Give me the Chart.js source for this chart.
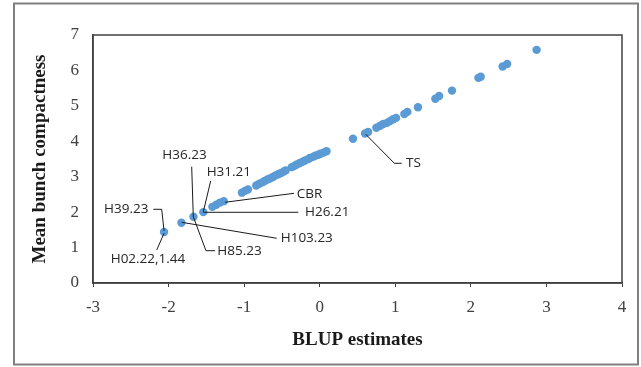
<!DOCTYPE html>
<html>
<head>
<meta charset="utf-8">
<script src="https://cdn.jsdelivr.net/npm/chart.js@4"></script>
<style>
  html, body { margin: 0; padding: 0; background: #fff; }
  #wrap { position: relative; width: 641px; height: 367px; }
</style>
</head>
<body>
<div id="wrap"><canvas id="chartBlup"></canvas></div>
<script>
// BLUP estimates (x) and mean bunch compactness (y)
var blupX = [-2.06, -1.83, -1.67, -1.54, -1.42, -1.37, -1.32, -1.27,
  -1.03, -0.99, -0.95, -0.84, -0.80, -0.76, -0.73, -0.69, -0.66, -0.62, -0.59, -0.55, -0.52, -0.48, -0.45,
  -0.37, -0.34, -0.31, -0.27, -0.23, -0.20, -0.16, -0.13, -0.09, -0.06, -0.02, 0.01, 0.05, 0.09,
  0.44, 0.60, 0.64, 0.75, 0.80, 0.84, 0.89, 0.93, 0.97, 1.01, 1.12, 1.16, 1.30,
  1.53, 1.58, 1.75, 2.10, 2.13, 2.42, 2.48, 2.87];
var meanY = [1.44, 1.70, 1.87, 2.00, 2.15, 2.21, 2.27, 2.31,
  2.55, 2.60, 2.64, 2.75, 2.80, 2.84, 2.88, 2.92, 2.95, 2.99, 3.03, 3.07, 3.10, 3.14, 3.18,
  3.27, 3.30, 3.34, 3.38, 3.42, 3.45, 3.49, 3.53, 3.56, 3.59, 3.62, 3.65, 3.68, 3.72,
  4.07, 4.22, 4.26, 4.38, 4.44, 4.49, 4.52, 4.57, 4.62, 4.66, 4.77, 4.83, 4.96,
  5.20, 5.28, 5.43, 5.79, 5.82, 6.11, 6.18, 6.58];

var xTicks = [-3, -2, -1, 0, 1, 2, 3, 4];
var yTicks = [0, 1, 2, 3, 4, 5, 6, 7];

var xTitle = 'BLUP estimates';
var yTitle = 'Mean bunch compactness';

// point labels: text, where the text starts, and the leader line (all in axis units)
var labelNames = ['H36.23', 'H31.21', 'CBR', 'H26.21', 'H39.23', 'H103.23', 'H85.23', 'H02.22,1.44', 'TS'];
var labelAt = [
  [-2.083, 3.60], [-1.496, 3.125], [-0.305, 2.512], [-0.195, 1.996], [-2.854, 2.08],
  [-0.516, 1.262], [-1.355, 0.912], [-2.766, 0.669], [1.142, 3.379]
];
var leaders = [
  [[-1.694, 3.283], [-1.673, 1.871]],
  [[-1.443, 2.879], [-1.540, 2.012]],
  [[-0.340, 2.532], [-1.253, 2.278]],
  [[-0.283, 1.996], [-1.540, 1.996]],
  [[-2.202, 2.080], [-2.091, 2.080], [-2.060, 1.476]],
  [[-0.569, 1.262], [-1.826, 1.713]],
  [[-1.386, 0.912], [-1.505, 0.912], [-1.673, 1.871]],
  [[-2.157, 0.931], [-2.060, 1.403]],
  [[1.085, 3.379], [0.987, 3.379], [0.609, 4.197]]
];

var points = blupX.map(function(v, i) { return { x: v, y: meanY[i] }; });

var framePlugin = {
  id: 'frame',
  beforeDraw: function(chart) {
    var ctx = chart.ctx;
    ctx.save();
    ctx.strokeStyle = '#7f7f7f';
    ctx.lineWidth = 2;
    ctx.strokeRect(14, 3.5, 624, 361);
    ctx.restore();
  },
  afterDatasetsDraw: function(chart) {
    var ctx = chart.ctx, a = chart.chartArea;
    var xs = chart.scales.x, ys = chart.scales.y;
    ctx.save();
    ctx.strokeStyle = '#404040';
    ctx.lineWidth = 1.5;
    ctx.strokeRect(a.left, a.top, a.right - a.left, a.bottom - a.top);

    ctx.strokeStyle = '#1a1a1a';
    ctx.lineWidth = 1;
    leaders.forEach(function(path) {
      ctx.beginPath();
      path.forEach(function(p, j) {
        var px = xs.getPixelForValue(p[0]), py = ys.getPixelForValue(p[1]);
        if (j === 0) ctx.moveTo(px, py); else ctx.lineTo(px, py);
      });
      ctx.stroke();
    });

    ctx.fillStyle = '#262626';
    ctx.font = '13.5px "Open Sans"';
    ctx.textAlign = 'left';
    ctx.textBaseline = 'middle';
    labelNames.forEach(function(t, i) {
      ctx.fillText(t, xs.getPixelForValue(labelAt[i][0]), ys.getPixelForValue(labelAt[i][1]));
    });
    ctx.restore();
  }
};

new Chart(document.getElementById('chartBlup'), {
  type: 'scatter',
  data: {
    datasets: [{
      data: points,
      backgroundColor: '#5b9bd5',
      borderColor: '#5b9bd5',
      pointRadius: 4.2,
      borderWidth: 0
    }]
  },
  options: {
    responsive: true,
    maintainAspectRatio: false,
    animation: false,
    layout: { padding: { left: 0, right: 19, top: 35, bottom: 0 } },
    plugins: { legend: { display: false }, tooltip: { enabled: false } },
    scales: {
      x: {
        type: 'linear',
        min: xTicks[0],
        max: xTicks[xTicks.length - 1],
        afterBuildTicks: function(s) { s.ticks = xTicks.map(function(v) { return { value: v }; }); },
        afterFit: function(s) { s.height = 84; },
        grid: { drawOnChartArea: false, drawTicks: true, tickLength: 4, color: '#404040' },
        border: { color: '#404040', width: 1.5 },
        ticks: { color: '#404040', padding: 10, font: { family: '"Liberation Serif"', size: 17 } },
        title: {
          display: true, text: xTitle, color: '#1a1a1a',
          font: { family: '"Liberation Serif"', size: 19, weight: 'bold' },
          padding: { top: 16, bottom: 16 }
        }
      },
      y: {
        type: 'linear',
        min: yTicks[0],
        max: yTicks[yTicks.length - 1],
        afterBuildTicks: function(s) { s.ticks = yTicks.map(function(v) { return { value: v }; }); },
        afterFit: function(s) { s.width = 93; },
        grid: { display: false, drawTicks: false },
        border: { color: '#404040', width: 1.5 },
        ticks: { color: '#404040', padding: 14, font: { family: '"Liberation Serif"', size: 17 } },
        title: {
          display: true, text: yTitle, color: '#1a1a1a',
          font: { family: '"Liberation Serif"', size: 19, weight: 'bold' },
          padding: { top: 29, bottom: 29 }
        }
      }
    }
  },
  plugins: [framePlugin]
});
</script>
</body>
</html>
